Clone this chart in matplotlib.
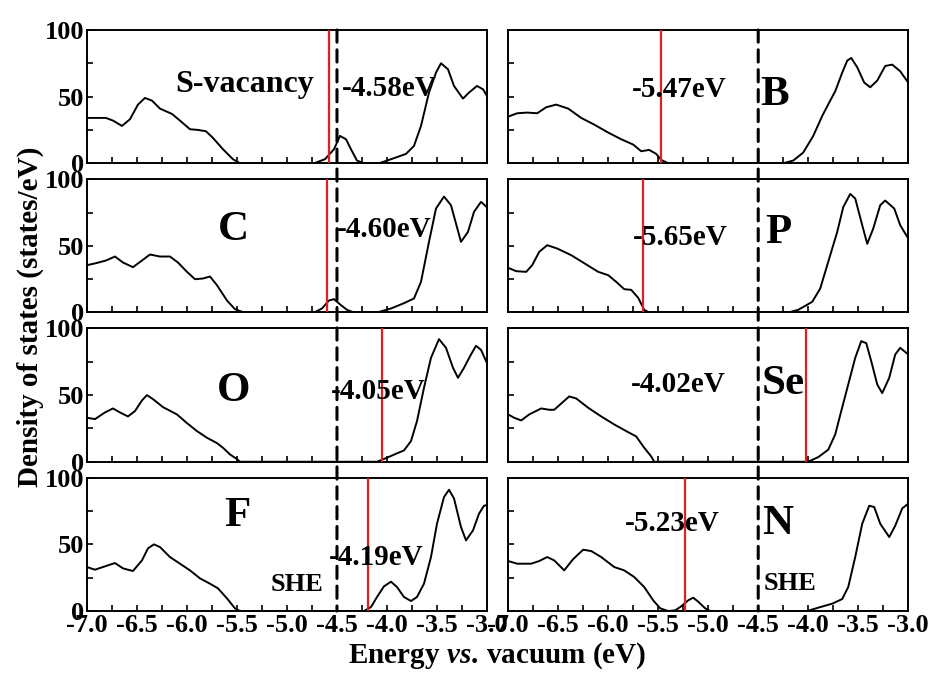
import matplotlib
matplotlib.use("Agg")
import matplotlib.pyplot as plt
from matplotlib.ticker import MultipleLocator
from matplotlib.patches import ConnectionPatch

plt.rcParams["font.family"] = ["Liberation Serif", "DejaVu Serif"]
plt.rcParams["font.weight"] = "bold"
plt.rcParams["mathtext.fontset"] = "custom"
plt.rcParams["mathtext.rm"] = "Liberation Serif:bold"
plt.rcParams["mathtext.it"] = "Liberation Serif:italic:bold"

# ---- DOS curves (energy in eV vs. vacuum, DOS in states/eV) ----
svac_e = [-7.0, -6.81, -6.74, -6.65, -6.57, -6.49, -6.42, -6.35, -6.27, -6.15, -6.07, -5.97,
          -5.89, -5.81, -5.74, -5.64, -5.54, -5.47, -4.73, -4.62, -4.53, -4.47, -4.41, -4.36,
          -4.30, -4.23, -4.08, -3.96, -3.81, -3.73, -3.66, -3.58, -3.51, -3.46, -3.39, -3.33,
          -3.24, -3.18, -3.10, -3.04, -3.0]
svac_dos = [34, 34, 32, 28, 33, 44, 49, 47, 41, 37, 32, 25.5,
            25, 24, 19, 10.5, 3, 0, 0, 3, 10.5, 20.5, 18, 10.5,
            2, 0, 0, 3, 7, 13, 28, 53, 68, 75, 70.5, 58,
            48.5, 53, 58, 55.5, 50.5]

c_e = [-7.0, -6.91, -6.81, -6.72, -6.64, -6.54, -6.45, -6.37, -6.27, -6.17, -6.09, -6.00,
       -5.92, -5.84, -5.77, -5.70, -5.60, -5.52, -5.43, -4.73, -4.65, -4.58, -4.53, -4.46,
       -4.40, -4.33, -4.10, -3.96, -3.83, -3.73, -3.66, -3.58, -3.51, -3.43, -3.36, -3.26,
       -3.19, -3.13, -3.06, -3.0]
c_dos = [35.5, 37, 39, 42, 37.5, 34, 39, 43.5, 42, 42, 37.5, 30.5,
         25, 25.5, 27, 20.5, 9, 2.5, 0, 0, 3, 9, 10, 5.5,
         2, 0, 0, 3, 7, 10.5, 23, 53, 78, 87, 80.5, 53,
         60.5, 75.5, 83, 79]

o_e = [-7.0, -6.92, -6.82, -6.74, -6.67, -6.59, -6.52, -6.45, -6.40, -6.34, -6.24, -6.10,
       -6.00, -5.90, -5.80, -5.70, -5.64, -5.57, -5.50, -5.47, -4.10, -4.0, -3.91, -3.83,
       -3.76, -3.70, -3.63, -3.56, -3.48, -3.41, -3.34, -3.29, -3.23, -3.16, -3.11, -3.06,
       -3.0]
o_dos = [33, 32, 37, 40, 37, 34, 38, 46, 50, 47, 41, 35.5,
         29, 23, 18, 14, 10.5, 5.5, 2, 0, 0, 3, 6, 8.5,
         15.5, 30.5, 55.5, 78, 92, 85.5, 70.5, 63, 70.5, 80.5, 87, 84,
         74]

f_e = [-7.0, -6.92, -6.82, -6.72, -6.64, -6.54, -6.45, -6.39, -6.33, -6.27, -6.17, -6.07,
       -5.97, -5.87, -5.77, -5.69, -5.60, -5.52, -5.47, -4.23, -4.16, -4.10, -4.03, -3.96,
       -3.90, -3.83, -3.76, -3.70, -3.63, -3.56, -3.50, -3.43, -3.38, -3.33, -3.26, -3.21,
       -3.14, -3.08, -3.03, -3.0]
f_dos = [33, 31, 33.5, 36, 32, 30, 38, 47, 50, 48, 40.5, 35.5,
         30.5, 24.5, 20.5, 17, 9.5, 2, 0, 0, 3, 10.5, 18.5, 22,
         18, 10.5, 7.5, 10.5, 20.5, 40.5, 65.5, 85.5, 91, 84.5, 63, 53,
         60.5, 73, 79, 79.5]

b_e = [-7.0, -6.91, -6.81, -6.71, -6.62, -6.52, -6.40, -6.27, -6.14, -6.00, -5.87, -5.75,
       -5.67, -5.59, -5.52, -5.47, -5.40, -4.25, -4.15, -4.05, -3.95, -3.86, -3.78, -3.73,
       -3.66, -3.61, -3.57, -3.51, -3.44, -3.38, -3.31, -3.23, -3.16, -3.08, -3.0]
b_dos = [35, 37.5, 38, 37.5, 42, 44, 41, 34, 29, 23, 18, 14,
         9, 10, 7, 2.5, 0, 0, 2, 8, 20.5, 35.5, 47, 54,
         68, 77, 79, 72, 60.5, 57, 62, 73, 74, 69, 60.5]

p_e = [-7.0, -6.92, -6.82, -6.76, -6.69, -6.61, -6.51, -6.37, -6.24, -6.10, -6.00, -5.92,
       -5.84, -5.77, -5.70, -5.64, -5.59, -4.20, -4.10, -3.96, -3.88, -3.80, -3.71, -3.65,
       -3.58, -3.53, -3.46, -3.41, -3.35, -3.28, -3.23, -3.14, -3.08, -3.0]
p_dos = [33.5, 31, 30.5, 35.5, 45.5, 50.5, 48, 43, 37, 30.5, 28, 23,
         17.5, 17, 11, 2, 0, 0, 2, 8, 18, 38, 60.5, 79,
         89, 85.5, 65.5, 51.5, 63, 80.5, 84, 78, 65.5, 55.5]

se_e = [-7.0, -6.94, -6.87, -6.79, -6.67, -6.59, -6.54, -6.45, -6.39, -6.32, -6.20, -6.07,
        -5.94, -5.82, -5.72, -5.64, -5.57, -5.54, -4.0, -3.90, -3.80, -3.73, -3.67, -3.60,
        -3.53, -3.47, -3.42, -3.37, -3.31, -3.26, -3.19, -3.13, -3.08, -3.0]
se_dos = [35.5, 33, 31, 35.5, 40, 39, 39, 45, 49, 47.5, 40.5, 34,
          28, 23, 19, 10.5, 4, 0, 0, 3.5, 9, 20.5, 38, 58,
          78, 90.5, 89, 75.5, 58, 51.5, 63, 80.5, 85.5, 80.5]

n_e = [-7.0, -6.91, -6.77, -6.69, -6.61, -6.54, -6.44, -6.35, -6.25, -6.17, -6.07, -5.94,
       -5.84, -5.74, -5.64, -5.55, -5.48, -5.40, -5.33, -5.27, -5.20, -5.15, -5.10, -5.03,
       -4.98, -4.01, -3.90, -3.76, -3.66, -3.60, -3.53, -3.46, -3.39, -3.34, -3.28, -3.19,
       -3.13, -3.06, -3.0]
n_dos = [37.5, 35.5, 35.5, 37.5, 40.5, 38, 30.5, 39, 46, 45, 40.5, 33,
         30.5, 25.5, 18, 8, 2, 0, 0.5, 3.5, 8, 10, 7, 2,
         0, 0, 2.5, 5.5, 9, 18, 40.5, 65.5, 79, 78, 65.5, 55.5,
         64, 77, 80.5]

# Fermi levels (eV) and labels, left column then right column
left_names = ["S-vacancy", "C", "O", "F"]
left_fermi = [-4.58, -4.60, -4.05, -4.19]
right_names = ["B", "P", "Se", "N"]
right_fermi = [-5.47, -5.65, -4.02, -5.23]
she = -4.5

left_curves = [(svac_e, svac_dos), (c_e, c_dos), (o_e, o_dos), (f_e, f_dos)]
right_curves = [(b_e, b_dos), (p_e, p_dos), (se_e, se_dos), (n_e, n_dos)]

# label positions (x, y) for the dopant name and the Fermi-level value
left_name_pos = [(-5.42, 59), (-5.54, 62), (-5.53, 53), (-5.50, 71)]
left_val_pos = [(-3.98, 56), (-4.03, 62), (-4.09, 53), (-4.11, 40)]
right_name_pos = [(-4.34, 51), (-4.30, 60), (-4.25, 58), (-4.31, 65)]
right_val_pos = [(-5.29, 55), (-5.28, 56), (-5.30, 58), (-5.36, 66)]

fig, axes = plt.subplots(4, 2, figsize=(9.32, 6.75), dpi=100, sharex=True, sharey=True)
fig.subplots_adjust(left=0.0933, right=0.9745, top=0.9556, bottom=0.0948,
                    wspace=0.053, hspace=0.12)

red = "#e0201e"

for col, (curves, names, fermi, npos, vpos) in enumerate([
        (left_curves, left_names, left_fermi, left_name_pos, left_val_pos),
        (right_curves, right_names, right_fermi, right_name_pos, right_val_pos)]):
    for row in range(4):
        ax = axes[row, col]
        e, dos = curves[row]
        ax.plot(e, dos, color="black", lw=1.4, zorder=3)
        ax.axvline(fermi[row], color=red, lw=1.6, zorder=4)
        size = 23 if names[row] == "S-vacancy" else 31
        ax.text(*npos[row], names[row], fontsize=size, fontweight="bold",
                ha="center", va="center", zorder=5)
        ax.text(*vpos[row], f"{fermi[row]:.2f}eV", fontsize=21, fontweight="bold",
                ha="center", va="center", zorder=5)

        ax.set_xlim(-7.0, -3.0)
        ax.set_ylim(0, 100)
        ax.xaxis.set_major_locator(MultipleLocator(0.5))
        ax.xaxis.set_minor_locator(MultipleLocator(0.25))
        ax.yaxis.set_major_locator(MultipleLocator(50))
        ax.yaxis.set_minor_locator(MultipleLocator(25))
        ax.tick_params(which="both", direction="in", length=4, width=1.2,
                       labelsize=19, pad=2)
        for sp in ax.spines.values():
            sp.set_linewidth(1.4)
        if col == 1:
            ax.tick_params(labelleft=False)

    # dashed SHE line running through the whole column
    con = ConnectionPatch(xyA=(she, 100), coordsA=axes[0, col].transData,
                          xyB=(she, 0), coordsB=axes[3, col].transData,
                          color="black", lw=2.2, linestyle=(0, (4, 2.5)), zorder=6)
    fig.add_artist(con)

axes[3, 0].text(-4.9, 20, "SHE", fontsize=19, fontweight="bold", ha="center", va="center")
axes[3, 1].text(-4.18, 21, "SHE", fontsize=19, fontweight="bold", ha="center", va="center")

for ax in axes[3]:
    ax.set_xticklabels([f"{v:.1f}" for v in ax.get_xticks()])

fig.text(0.033, 0.53, "Density of states (states/eV)", rotation=90, fontsize=21,
         fontweight="bold", ha="center", va="center")
fig.text(0.533, 0.028, r"$\mathrm{Energy}\ \mathit{vs.}\,\mathrm{vacuum\ (eV)}$",
         fontsize=21, ha="center", va="center")

fig.savefig("out.png", dpi=100)
